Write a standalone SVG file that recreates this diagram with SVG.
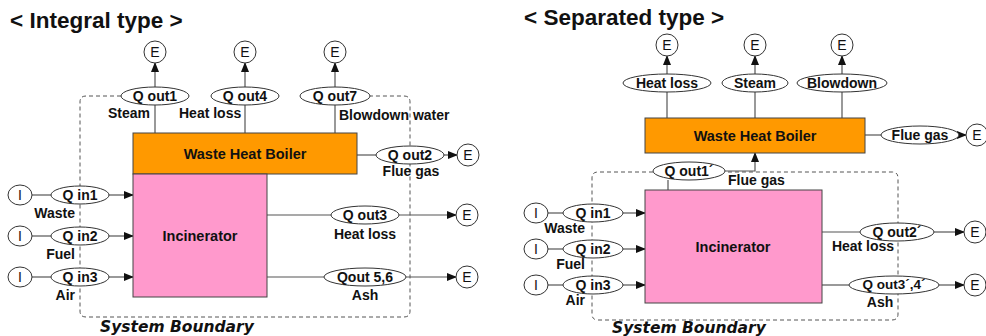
<svg xmlns="http://www.w3.org/2000/svg" width="986" height="336" viewBox="0 0 986 336">
<style>
text{font-family:"Liberation Sans",Arial,sans-serif;font-weight:bold;fill:#111}
.t{font-size:22.5px}
.l{font-size:14px}
.n{font-size:14px;font-weight:normal}
.c{text-anchor:middle}
.r{text-anchor:end}
.sb{font-family:"DejaVu Sans",sans-serif;font-size:15.5px;font-style:italic;font-weight:bold}
.ov{fill:#fff;stroke:#333;stroke-width:1}
.ln{stroke:#555;stroke-width:1.2;fill:none}
.bd{stroke:#555;stroke-width:1;fill:none;stroke-dasharray:4,3}
.boil{fill:#FF9900;stroke:#444;stroke-width:1}
.inc{fill:#FF99CC;stroke:#444;stroke-width:1}
</style>
<defs>
<marker id="ah" markerWidth="10" markerHeight="8" refX="9" refY="4" orient="auto" markerUnits="userSpaceOnUse">
<path d="M0,0 L10,4 L0,8 z" fill="#111"/>
</marker>
</defs>
<text class="t" x="10" y="28">&lt; Integral type &gt;</text>
<text class="t" x="524" y="25">&lt; Separated type &gt;</text>

<g id="boundaries">
<path class="bd" d="M121,96 H86 Q80,96 80,102 V311 Q80,317 86,317 H404 Q410,317 410,311 V102 Q410,96 404,96 H370"/>
<path class="bd" d="M653,172 H598 Q592,172 592,178 V314 Q592,320 598,320 H892 Q898,320 898,314 V178 Q898,172 892,172 H725"/>
</g>

<g id="connectors">
<line class="ln" x1="155" y1="133" x2="155" y2="105"/>
<line class="ln" x1="245" y1="133" x2="245" y2="105"/>
<line class="ln" x1="335" y1="133" x2="335" y2="105"/>
<line class="ln" x1="155" y1="87" x2="155" y2="63" marker-end="url(#ah)"/>
<line class="ln" x1="245" y1="87" x2="245" y2="63" marker-end="url(#ah)"/>
<line class="ln" x1="335" y1="87" x2="335" y2="63" marker-end="url(#ah)"/>
<line class="ln" x1="357" y1="155" x2="376" y2="155"/>
<line class="ln" x1="444" y1="155" x2="457" y2="155" marker-end="url(#ah)"/>
<line class="ln" x1="32" y1="195" x2="51" y2="195"/>
<line class="ln" x1="32" y1="236" x2="51" y2="236"/>
<line class="ln" x1="32" y1="277" x2="51" y2="277"/>
<line class="ln" x1="109" y1="195" x2="133" y2="195" marker-end="url(#ah)"/>
<line class="ln" x1="109" y1="236" x2="133" y2="236" marker-end="url(#ah)"/>
<line class="ln" x1="109" y1="277" x2="133" y2="277" marker-end="url(#ah)"/>
<line class="ln" x1="267" y1="215" x2="331" y2="215"/>
<line class="ln" x1="399" y1="215" x2="456" y2="215" marker-end="url(#ah)"/>
<line class="ln" x1="267" y1="277" x2="324" y2="277"/>
<line class="ln" x1="406" y1="277" x2="456" y2="277" marker-end="url(#ah)"/>

<line class="ln" x1="667" y1="118" x2="667" y2="92"/>
<line class="ln" x1="755" y1="118" x2="755" y2="92"/>
<line class="ln" x1="842" y1="118" x2="842" y2="92"/>
<line class="ln" x1="667" y1="74" x2="667" y2="56" marker-end="url(#ah)"/>
<line class="ln" x1="755" y1="74" x2="755" y2="56" marker-end="url(#ah)"/>
<line class="ln" x1="842" y1="74" x2="842" y2="56" marker-end="url(#ah)"/>
<line class="ln" x1="865" y1="135" x2="881" y2="135"/>
<line class="ln" x1="959" y1="135" x2="966" y2="135" marker-end="url(#ah)"/>
<line class="ln" x1="668" y1="180" x2="668" y2="190"/>
<path class="ln" d="M725,171 H755 V153" marker-end="url(#ah)"/>
<line class="ln" x1="547" y1="213" x2="563" y2="213"/>
<line class="ln" x1="547" y1="249" x2="563" y2="249"/>
<line class="ln" x1="547" y1="285" x2="563" y2="285"/>
<line class="ln" x1="623" y1="213" x2="645" y2="213" marker-end="url(#ah)"/>
<line class="ln" x1="623" y1="249" x2="645" y2="249" marker-end="url(#ah)"/>
<line class="ln" x1="623" y1="285" x2="645" y2="285" marker-end="url(#ah)"/>
<line class="ln" x1="822" y1="232" x2="860" y2="232"/>
<line class="ln" x1="934" y1="232" x2="964" y2="232" marker-end="url(#ah)"/>
<line class="ln" x1="822" y1="285" x2="849" y2="285"/>
<line class="ln" x1="939" y1="285" x2="964" y2="285" marker-end="url(#ah)"/>
</g>

<g id="boiler1"><rect class="boil" x="133" y="133" width="224" height="41"/><text class="c" x="245" y="159" style="font-size:14.5px">Waste Heat Boiler</text></g>
<g id="incinerator1"><rect class="inc" x="133" y="174" width="134" height="123"/><text class="c" x="200" y="241" style="font-size:14.5px">Incinerator</text></g>

<g id="e1"><ellipse class="ov" cx="155" cy="52" rx="11" ry="11"/><text class="n c" x="155" y="57">E</text></g>
<g id="e2"><ellipse class="ov" cx="245" cy="52" rx="11" ry="11"/><text class="n c" x="245" y="57">E</text></g>
<g id="e3"><ellipse class="ov" cx="335" cy="52" rx="11" ry="11"/><text class="n c" x="335" y="57">E</text></g>
<g id="qout1"><ellipse class="ov" cx="155" cy="96" rx="34" ry="9"/><text class="l c" x="155" y="101">Q out1</text></g>
<g id="qout4"><ellipse class="ov" cx="245" cy="96" rx="34" ry="9"/><text class="l c" x="245" y="101">Q out4</text></g>
<g id="qout7"><ellipse class="ov" cx="335" cy="96" rx="35" ry="9"/><text class="l c" x="335" y="101">Q out7</text></g>
<text class="l" x="108" y="118">Steam</text>
<text class="l" x="179" y="118">Heat loss</text>
<text class="l" x="339" y="120">Blowdown water</text>
<g id="qout2"><ellipse class="ov" cx="410" cy="155" rx="34" ry="9"/><text class="l c" x="410" y="160">Q out2</text></g>
<g id="e4"><ellipse class="ov" cx="468" cy="155" rx="11" ry="11"/><text class="n c" x="468" y="160">E</text></g>
<text class="l c" x="411" y="176">Flue gas</text>

<g id="i1"><ellipse class="ov" cx="20" cy="195" rx="12" ry="10"/><text class="n c" x="20" y="200">I</text></g>
<g id="i2"><ellipse class="ov" cx="20" cy="236" rx="12" ry="10"/><text class="n c" x="20" y="241">I</text></g>
<g id="i3"><ellipse class="ov" cx="20" cy="277" rx="12" ry="10"/><text class="n c" x="20" y="282">I</text></g>
<g id="qin1"><ellipse class="ov" cx="80" cy="195" rx="29" ry="9"/><text class="l c" x="80" y="200">Q in1</text></g>
<g id="qin2"><ellipse class="ov" cx="80" cy="236" rx="29" ry="9"/><text class="l c" x="80" y="241">Q in2</text></g>
<g id="qin3"><ellipse class="ov" cx="80" cy="277" rx="29" ry="9"/><text class="l c" x="80" y="282">Q in3</text></g>
<text class="l r" x="75" y="218">Waste</text>
<text class="l r" x="75" y="259">Fuel</text>
<text class="l r" x="75" y="300">Air</text>

<g id="qout3"><ellipse class="ov" cx="365" cy="215" rx="34" ry="9"/><text class="l c" x="365" y="220">Q out3</text></g>
<g id="e5"><ellipse class="ov" cx="467" cy="215" rx="11" ry="11"/><text class="n c" x="467" y="220">E</text></g>
<text class="l c" x="365" y="239">Heat loss</text>
<g id="qout56"><ellipse class="ov" cx="365" cy="277" rx="41" ry="9"/><text class="l c" x="365" y="282">Qout 5,6</text></g>
<g id="e6"><ellipse class="ov" cx="467" cy="277" rx="11" ry="11"/><text class="n c" x="467" y="282">E</text></g>
<text class="l c" x="365" y="300">Ash</text>
<text class="sb" x="100" y="332">System Boundary</text>

<g id="boiler2"><rect class="boil" x="645" y="118" width="220" height="35"/><text class="c" x="755" y="141" style="font-size:14.5px">Waste Heat Boiler</text></g>
<g id="incinerator2"><rect class="inc" x="645" y="190" width="177" height="113"/><text class="c" x="733" y="252" style="font-size:14.5px">Incinerator</text></g>

<g id="e7"><ellipse class="ov" cx="667" cy="45" rx="11" ry="11"/><text class="n c" x="667" y="50">E</text></g>
<g id="e8"><ellipse class="ov" cx="755" cy="45" rx="11" ry="11"/><text class="n c" x="755" y="50">E</text></g>
<g id="e9"><ellipse class="ov" cx="842" cy="45" rx="11" ry="11"/><text class="n c" x="842" y="50">E</text></g>
<g id="heatloss"><ellipse class="ov" cx="667" cy="83" rx="44" ry="9"/><text class="l c" x="667" y="88">Heat loss</text></g>
<g id="steam"><ellipse class="ov" cx="755" cy="83" rx="33" ry="9"/><text class="l c" x="755" y="88">Steam</text></g>
<g id="blowdown"><ellipse class="ov" cx="842" cy="83" rx="45" ry="9"/><text class="l c" x="842" y="88">Blowdown</text></g>
<g id="fluegas"><ellipse class="ov" cx="920" cy="135" rx="39" ry="9"/><text class="l c" x="920" y="140">Flue gas</text></g>
<g id="e10"><ellipse class="ov" cx="977" cy="135" rx="11" ry="11"/><text class="n c" x="977" y="140">E</text></g>
<g id="qout1p"><ellipse class="ov" cx="689" cy="171" rx="36" ry="9"/><text class="l c" x="689" y="176">Q out1´</text></g>
<text class="l" x="728" y="185">Flue gas</text>

<g id="i4"><ellipse class="ov" cx="536" cy="213" rx="12" ry="10"/><text class="n c" x="536" y="218">I</text></g>
<g id="i5"><ellipse class="ov" cx="536" cy="249" rx="12" ry="10"/><text class="n c" x="536" y="254">I</text></g>
<g id="i6"><ellipse class="ov" cx="536" cy="285" rx="12" ry="10"/><text class="n c" x="536" y="290">I</text></g>
<g id="qin1p"><ellipse class="ov" cx="593" cy="213" rx="30" ry="9"/><text class="l c" x="593" y="218">Q in1</text></g>
<g id="qin2p"><ellipse class="ov" cx="593" cy="249" rx="30" ry="9"/><text class="l c" x="593" y="254">Q in2</text></g>
<g id="qin3p"><ellipse class="ov" cx="593" cy="285" rx="30" ry="9"/><text class="l c" x="593" y="290">Q in3</text></g>
<text class="l r" x="585" y="233">Waste</text>
<text class="l r" x="585" y="269">Fuel</text>
<text class="l r" x="585" y="305">Air</text>

<g id="qout2p"><ellipse class="ov" cx="897" cy="232" rx="37" ry="9"/><text class="l c" x="897" y="237">Q out2´</text></g>
<g id="e11"><ellipse class="ov" cx="975" cy="232" rx="11" ry="11"/><text class="n c" x="975" y="237">E</text></g>
<text class="l c" x="863" y="251">Heat loss</text>
<g id="qout34p"><ellipse class="ov" cx="894" cy="285" rx="45" ry="9"/><text class="l c" x="894" y="289" style="font-size:13.5px">Q out3´,4´</text></g>
<g id="e12"><ellipse class="ov" cx="975" cy="285" rx="11" ry="11"/><text class="n c" x="975" y="290">E</text></g>
<text class="l c" x="880" y="307">Ash</text>
<text class="sb" x="612" y="333">System Boundary</text>
</svg>
